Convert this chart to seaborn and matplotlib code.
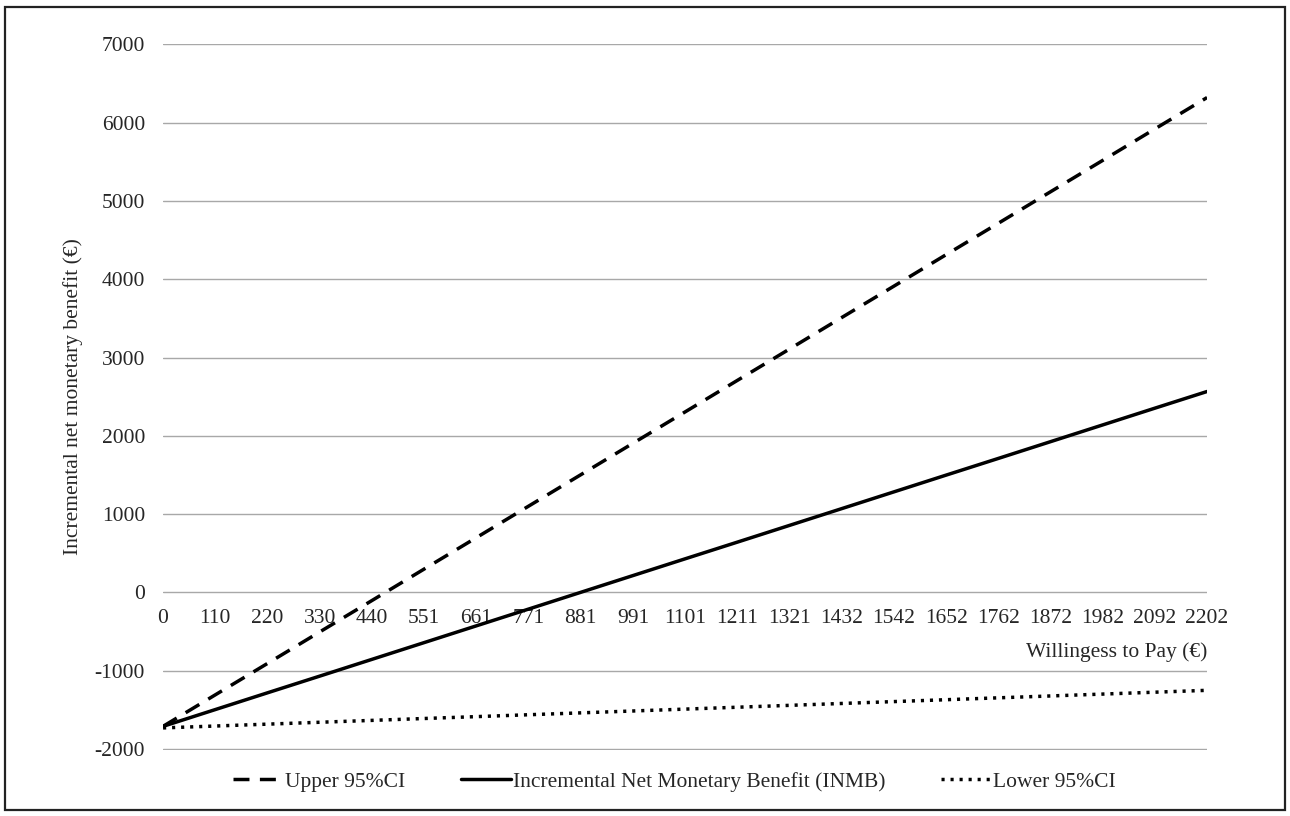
import pandas as pd
import matplotlib.pyplot as plt
import matplotlib.patches as mpatches
import seaborn as sns

# willingness to pay categories (EUR)
wtp_labels = ['0', '110', '220', '330', '440', '551', '661', '771', '881', '991', '1101',
              '1211', '1321', '1432', '1542', '1652', '1762', '1872', '1982', '2092', '2202']

upper_ci = [-1710, -1308, -907, -505, -104, 298, 699, 1101, 1502, 1904, 2305,
            2707, 3108, 3510, 3911, 4313, 4714, 5116, 5517, 5919, 6320]
inmb = [-1710, -1496, -1282, -1069, -855, -641, -427, -213, 1, 215, 429,
        642, 856, 1070, 1284, 1498, 1711, 1925, 2139, 2353, 2566]
lower_ci = [-1730, -1706, -1682, -1658, -1634, -1610, -1586, -1562, -1538, -1514, -1490,
            -1466, -1442, -1418, -1394, -1370, -1346, -1322, -1298, -1274, -1250]

df = pd.DataFrame({'pos': range(len(wtp_labels)), 'upper': upper_ci,
                   'inmb': inmb, 'lower': lower_ci})

sns.set_style('white')
plt.rcParams['font.family'] = ['Liberation Serif', 'DejaVu Serif']
plt.rcParams['axes.unicode_minus'] = False

FS = 15.5

fig = plt.figure(figsize=(12.9, 8.16), dpi=100)
ax = fig.add_axes([0.1264, 0.0809, 0.8093, 0.8652])

ax.set_yticks(range(-2000, 7001, 1000))
ax.yaxis.grid(True, color='#a8a8a8', linewidth=1)
ax.set_axisbelow(True)

sns.lineplot(data=df, x='pos', y='upper', ax=ax, color='black', linewidth=2.5,
             linestyle=(0, (4.6, 3.0)), label='Upper 95%CI')
sns.lineplot(data=df, x='pos', y='inmb', ax=ax, color='black', linewidth=2.5,
             label='Incremental Net Monetary Benefit (INMB)')
sns.lineplot(data=df, x='pos', y='lower', ax=ax, color='black', linewidth=2.5,
             linestyle=(0, (0.9, 1.7)), label='Lower 95%CI')

ax.set_xlim(0, len(wtp_labels) - 1)
ax.set_ylim(-2012, 7004)
ax.set_xticks(range(len(wtp_labels)), wtp_labels)
for s in ax.spines.values():
    s.set_visible(False)
ax.spines['bottom'].set_position(('data', 0))
ax.tick_params(axis='both', length=0, labelsize=FS)
ax.tick_params(axis='y', pad=13)
ax.tick_params(axis='x', pad=12)

ax.set_xlabel('Willingess to Pay (€)', fontsize=FS)
ax.xaxis.set_label_coords(1.0, 0.153)
ax.xaxis.label.set_horizontalalignment('right')
ax.set_ylabel('Incremental net monetary benefit (€)', fontsize=FS, labelpad=8)

handles, labels = ax.get_legend_handles_labels()
ax.get_legend().remove()
fig.legend(handles, labels, loc='center', bbox_to_anchor=(0.523, 0.042), ncol=3,
           frameon=False, fontsize=FS, handlelength=2.3, handletextpad=0.1,
           columnspacing=2.6)

fig.patches.append(mpatches.Rectangle((0.004, 0.007), 0.992, 0.985, transform=fig.transFigure,
                                      fill=False, edgecolor='#222222', linewidth=1.6))

plt.savefig('out.png', dpi=100)
